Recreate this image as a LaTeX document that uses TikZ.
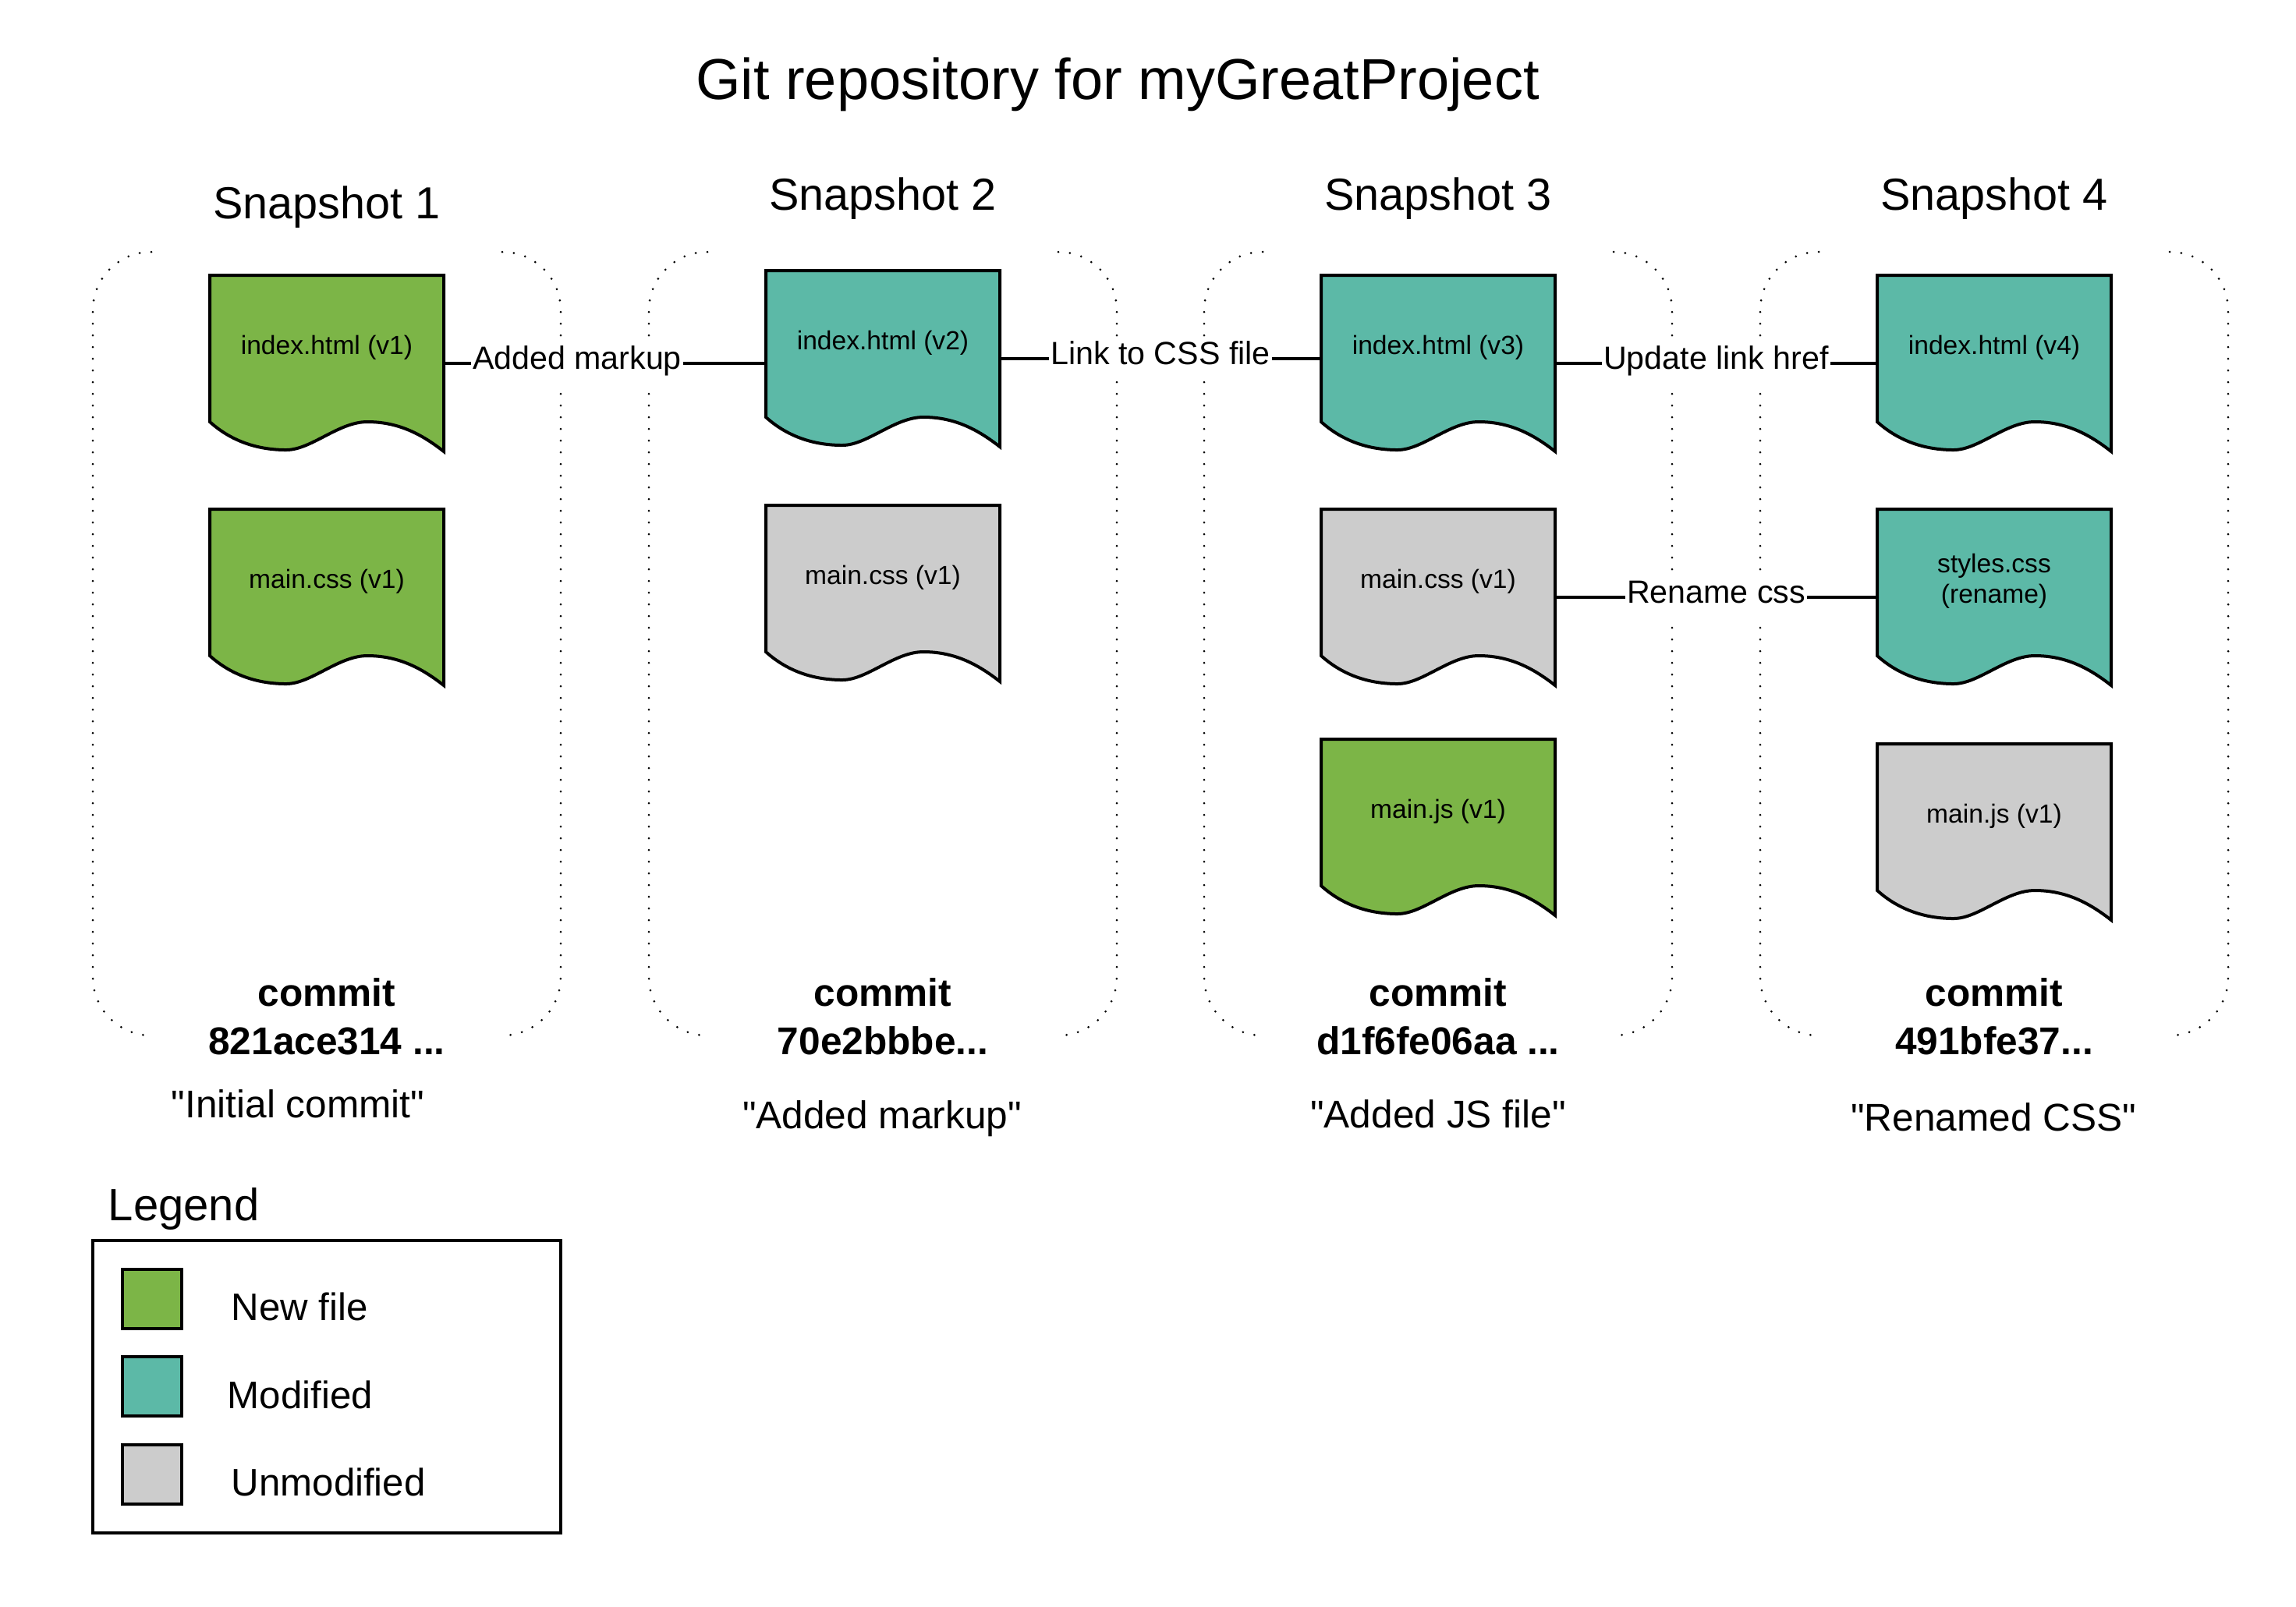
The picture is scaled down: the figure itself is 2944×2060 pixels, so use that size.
\documentclass[tikz,border=0pt]{standalone}
\usepackage{fontspec}
\setmainfont{Liberation Sans}[Ligatures=TeXOff]
\usetikzlibrary{calc}
\definecolor{newgreen}{HTML}{7CB547}
\definecolor{modteal}{HTML}{5CB9A7}
\definecolor{unmodgray}{HTML}{CCCCCC}
\tikzset{
  docbox/.style={rectangle, minimum width=75pt, minimum height=56.5pt, inner sep=0pt, outer sep=0pt},
  docline/.style={draw=black, line width=1pt, line join=miter},
  doctext/.style={font=\fontsize{8.4}{9.75}\selectfont, anchor=base, align=center, inner sep=0pt},
  conn/.style={draw=black, line width=0.8pt},
  elabel/.style={fill=white, font=\fontsize{10.3}{12}\selectfont, text height=0.72em, text depth=0.36em, inner xsep=0.5pt, inner ysep=1.5pt},
  bracket/.style={line width=0.75pt, dash pattern=on 0pt off 3.75pt, line cap=round, rounded corners=18.75pt},
  snaptitle/.style={font=\fontsize{14.4}{17}\selectfont, anchor=base, inner sep=0pt},
  committext/.style={font=\bfseries\fontsize{12.4}{15.5}\selectfont, anchor=base, align=center, inner sep=0pt},
  msgtext/.style={font=\fontsize{12.4}{15}\selectfont, anchor=base, inner sep=0pt},
  legsq/.style={draw=black, line width=1pt, minimum width=19pt, minimum height=19pt, inner sep=0pt},
  legtext/.style={font=\fontsize{12.3}{15}\selectfont, anchor=base west, inner sep=0pt},
}
\newcommand\gitdoc[6]{%
  \node[docbox] (#1) at (#2,#3+113) {};
  \begin{scope}[shift={(#1.north west)}]
    \filldraw[docline,fill=#4] (0,0) -- (300,0) -- (300,226)
      .. controls (272,204) and (242,188) .. (202,188)
      .. controls (165,188) and (130,224) .. (98,224)
      .. controls (65,224) and (30,215) .. (0,188) -- cycle;
  \end{scope}
  \node[doctext] (#1-t) at ($(#1.north)+(0,#6)$) {#5};
}
\newcommand\gitbracket[1]{%
  \draw[bracket] (#1-225,323) -- (#1-300,323) -- (#1-300,1328) -- (#1-225,1328);
  \draw[bracket] (#1+225,323) -- (#1+300,323) -- (#1+300,1328) -- (#1+225,1328);
}
\begin{document}
\begin{tikzpicture}[x=0.25pt,y=-0.25pt]
\useasboundingbox[fill=white] (0,0) rectangle (2944,2060);

\node[font=\fontsize{18.5}{22}\selectfont, anchor=base, inner sep=0pt] (title) at (1433,127) {Git repository for myGreatProject};

\node[snaptitle] (s1) at (419,280) {Snapshot 1};
\node[snaptitle] (s2) at (1132,269) {Snapshot 2};
\node[snaptitle] (s3) at (1844,269) {Snapshot 3};
\node[snaptitle] (s4) at (2557,269) {Snapshot 4};

\gitbracket{419}
\gitbracket{1132}
\gitbracket{1844}
\gitbracket{2557}

\gitdoc{d1i}{419}{353}{newgreen}{index.html (v1)}{101}
\gitdoc{d1c}{419}{653}{newgreen}{main.css (v1)}{101}
\gitdoc{d2i}{1132}{347}{modteal}{index.html (v2)}{101}
\gitdoc{d2c}{1132}{648}{unmodgray}{main.css (v1)}{101}
\gitdoc{d3i}{1844}{353}{modteal}{index.html (v3)}{101}
\gitdoc{d3c}{1844}{653}{unmodgray}{main.css (v1)}{101}
\gitdoc{d3j}{1844}{948}{newgreen}{main.js (v1)}{101}
\gitdoc{d4i}{2557}{353}{modteal}{index.html (v4)}{101}
\gitdoc{d4s}{2557}{653}{modteal}{styles.css\\(rename)}{120}
\gitdoc{d4j}{2557}{954}{unmodgray}{main.js (v1)}{101}

\draw[conn] (d1i.east) -- node[elabel,pos=0.414]{Added markup} (d1i.east -| d2i.west);
\draw[conn] (d2i.east) -- node[elabel]{Link to CSS file} (d2i.east -| d3i.west);
\draw[conn] (d3i.east) -- node[elabel]{Update link href} (d3i.east -| d4i.west);
\draw[conn] (d3c.east) -- node[elabel]{Rename css} (d3c.east -| d4s.west);

\node[committext] (c1) at (419,1352) {commit\\821ace314 ...};
\node[committext] (c2) at (1132,1352) {commit\\70e2bbbe...};
\node[committext] (c3) at (1844,1352) {commit\\d1f6fe06aa ...};
\node[committext] (c4) at (2557,1352) {commit\\491bfe37...};

\node[msgtext] (m1) at (382,1433) {"Initial commit"};
\node[msgtext] (m2) at (1131,1447) {"Added markup"};
\node[msgtext] (m3) at (1844,1446) {"Added JS file"};
\node[msgtext] (m4) at (2556,1450) {"Renamed CSS"};

\node[font=\fontsize{14.5}{17}\selectfont, anchor=base west, inner sep=0pt] (legtitle) at (138,1565) {Legend};
\node[draw=black, line width=1pt, minimum width=150pt, minimum height=93.75pt, inner sep=0pt] (legbox) at (419,1778.5) {};
\node[legsq, fill=newgreen] (lq1) at (194.5,1665.5) {};
\node[legsq, fill=modteal] (lq2) at (194.5,1778) {};
\node[legsq, fill=unmodgray] (lq3) at (194.5,1890.5) {};
\node[legtext] (lt1) at (296,1693) {New file};
\node[legtext] (lt2) at (291,1806) {Modified};
\node[legtext] (lt3) at (296,1918) {Unmodified};
\end{tikzpicture}
\end{document}
